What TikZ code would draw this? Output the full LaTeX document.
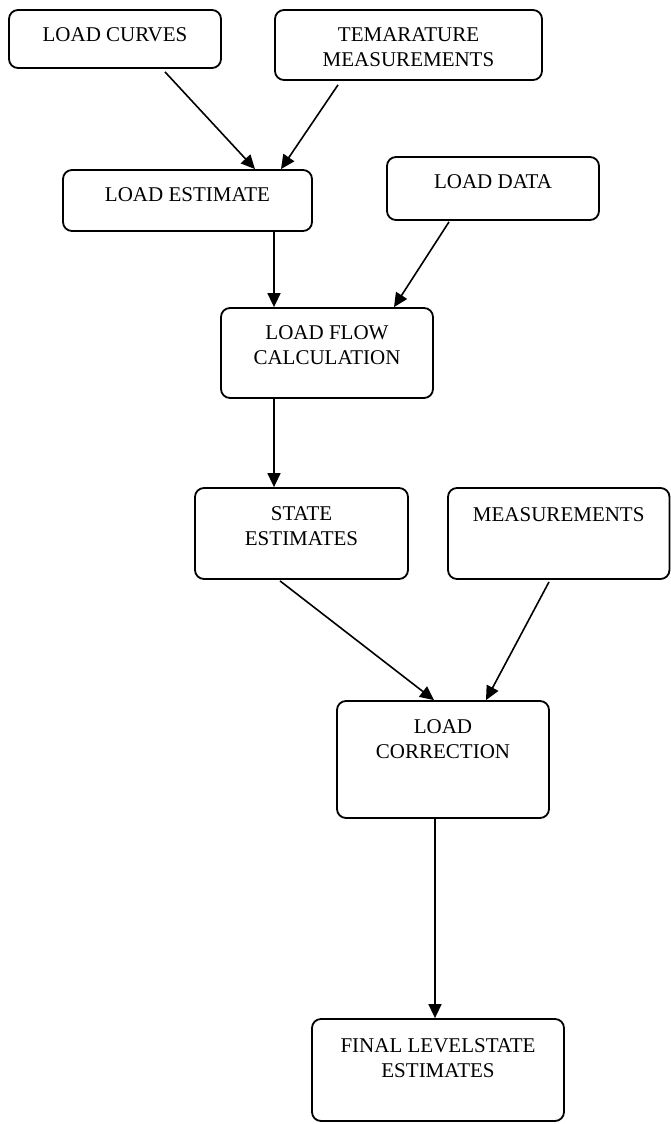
\documentclass[tikz,border=0pt]{standalone}
\usepackage{fontspec}
\setmainfont{Liberation Serif}
\usetikzlibrary{arrows.meta}
\begin{document}
\begin{tikzpicture}[x=1pt,y=-1pt,
  box/.style={draw=black,line width=1.8pt,rounded corners=9pt,inner sep=0pt,fill=white},
  lbl/.style={anchor=north,inner sep=0pt,align=center,font=\fontsize{21}{25}\selectfont},
  arr/.style={line width=1.6pt,-{Triangle[length=14pt,width=13pt]}}]
\fill[white] (0,0) rectangle (671,1124);
\useasboundingbox (0,0) rectangle (671,1124);
% boxes
\node[box,minimum width=212pt,minimum height=58pt] (curves) at (115,39) {};
\node[box,minimum width=267pt,minimum height=70pt] (temp) at (408.5,45) {};
\node[box,minimum width=249pt,minimum height=61pt] (est) at (187.5,200.5) {};
\node[box,minimum width=212pt,minimum height=63pt] (data) at (493,188.5) {};
\node[box,minimum width=212pt,minimum height=90pt] (flow) at (327,353) {};
\node[box,minimum width=213pt,minimum height=91pt] (state) at (301.5,533.5) {};
\node[box,minimum width=221.5pt,minimum height=91pt] (meas) at (558.75,533.5) {};
\node[box,minimum width=212pt,minimum height=117pt] (lc) at (443,759.5) {};
\node[box,minimum width=252pt,minimum height=102pt] (final) at (438,1070) {};
% labels
\node[lbl] (tcurves) at ([yshift=-18pt]curves.north) {LOAD CURVES};
\node[lbl] (ttemp) at ([yshift=-18pt]temp.north) {TEMARATURE\\MEASUREMENTS};
\node[lbl] (test) at ([yshift=-18pt]est.north) {LOAD ESTIMATE};
\node[lbl] (tdata) at ([yshift=-18pt]data.north) {LOAD DATA};
\node[lbl] (tflow) at ([yshift=-18pt]flow.north) {LOAD FLOW\\CALCULATION};
\node[lbl] (tstate) at ([yshift=-19pt]state.north) {STATE\\ESTIMATES};
\node[lbl] (tmeas) at ([yshift=-20pt]meas.north) {MEASUREMENTS};
\node[lbl] (tlc) at ([yshift=-19pt]lc.north) {LOAD\\CORRECTION};
\node[lbl] (tfinal) at ([yshift=-20pt]final.north) {FINAL LEVELSTATE\\ESTIMATES};
% connectors
\draw[arr] ([xshift=50pt,yshift=-3pt]curves.south) -- ([xshift=67.5pt]est.north);
\draw[arr] ([xshift=-70.5pt,yshift=-4pt]temp.south) -- ([xshift=93.5pt]est.north);
\draw[arr] ([xshift=86.5pt]est.south) -- ([xshift=-53pt]flow.north);
\draw[arr] ([xshift=-44pt,yshift=-1pt]data.south) -- ([xshift=67pt]flow.north);
\draw[arr] ([xshift=-53pt]flow.south) -- ([xshift=-27.5pt]state.north);
\draw[arr] ([xshift=-21.5pt,yshift=-1pt]state.south) -- ([xshift=-9pt]lc.north);
\draw[arr] ([xshift=-9.75pt,yshift=-2pt]meas.south) -- ([xshift=43pt]lc.north);
\draw[arr] ([xshift=-8pt]lc.south) -- ([xshift=-3pt]final.north);
\end{tikzpicture}
\end{document}
